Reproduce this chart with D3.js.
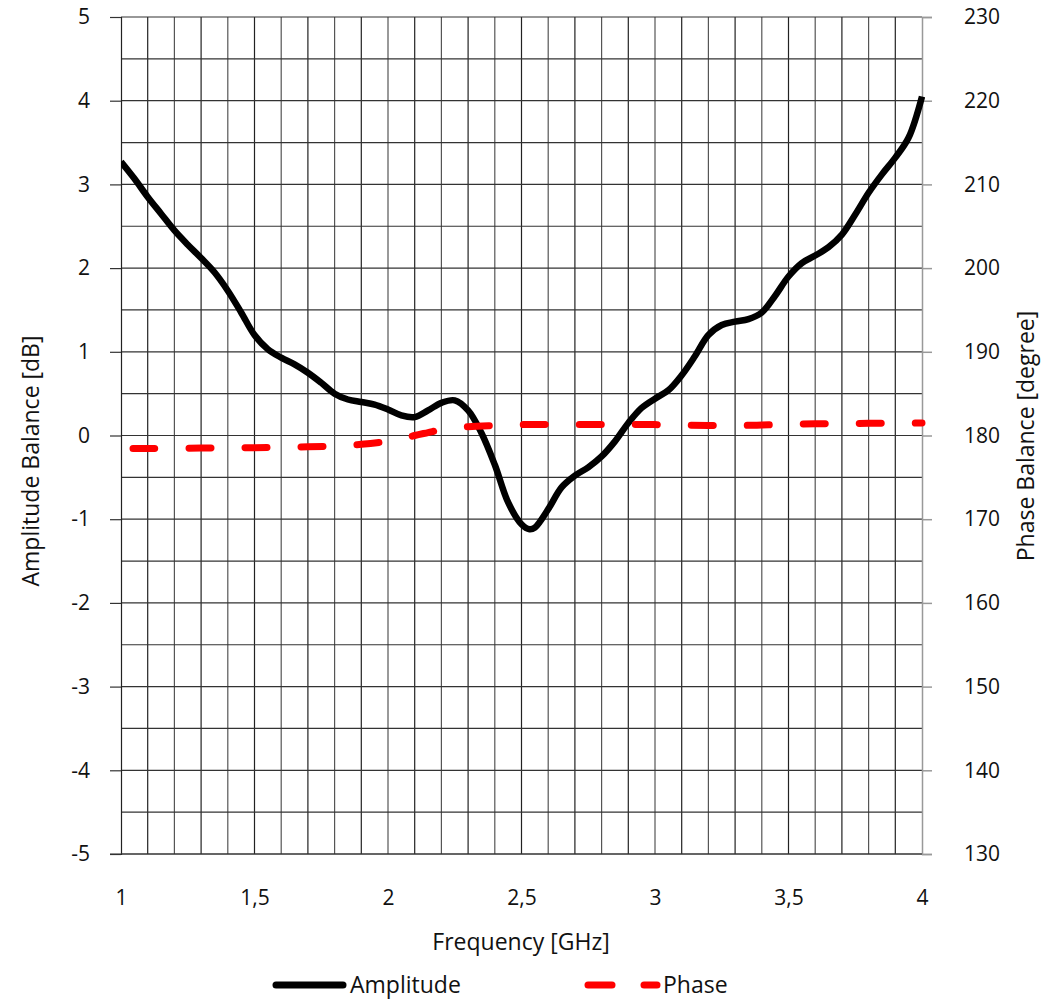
<!DOCTYPE html>
<html><head><meta charset="utf-8">
<script src="https://cdn.jsdelivr.net/npm/d3@7"></script>
<style>body{margin:0;background:#fff}svg{display:block}text{font-family:"Open Sans",sans-serif;fill:#111}</style>
</head><body><svg id="c" width="1058" height="1002"></svg>
<script>
const freq = [1.0,1.05,1.1,1.15,1.2,1.25,1.3,1.35,1.4,1.45,1.5,1.55,1.6,1.65,1.7,1.75,1.8,1.85,1.9,1.95,2.0,2.05,2.1,2.15,2.2,2.25,2.3,2.35,2.4,2.45,2.5,2.53,2.55,2.6,2.65,2.7,2.75,2.8,2.85,2.9,2.95,3.0,3.05,3.1,3.15,3.2,3.25,3.3,3.35,3.4,3.45,3.5,3.55,3.6,3.65,3.7,3.75,3.8,3.85,3.9,3.95,4.0];
const amplitude = [3.27,3.07,2.85,2.65,2.45,2.28,2.12,1.95,1.73,1.47,1.2,1.03,0.93,0.85,0.75,0.63,0.5,0.43,0.4,0.37,0.31,0.24,0.22,0.3,0.39,0.42,0.3,0.03,-0.35,-0.8,-1.06,-1.12,-1.1,-0.88,-0.62,-0.48,-0.38,-0.25,-0.07,0.15,0.33,0.44,0.54,0.72,0.95,1.2,1.32,1.36,1.39,1.47,1.67,1.9,2.06,2.15,2.25,2.4,2.64,2.9,3.12,3.32,3.56,4.05];
const phaseFreq = [1.045,1.1,1.2,1.3,1.4,1.5,1.6,1.7,1.8,1.9,2.0,2.05,2.1,2.15,2.2,2.3,2.4,2.5,2.6,2.7,2.8,2.9,3.0,3.1,3.2,3.3,3.4,3.5,3.6,3.7,3.8,3.9,4.0];
const phase = [178.45,178.45,178.45,178.5,178.5,178.55,178.6,178.65,178.75,178.95,179.3,179.6,180.0,180.35,180.7,181.05,181.2,181.3,181.3,181.3,181.3,181.3,181.3,181.25,181.2,181.2,181.25,181.35,181.4,181.4,181.45,181.45,181.5];
const xTicks = [1,1.5,2,2.5,3,3.5,4];
const xTickLabels = ["1","1,5","2","2,5","3","3,5","4"];
const yLeftTicks = [-5,-4,-3,-2,-1,0,1,2,3,4,5];
const yRightTicks = [130,140,150,160,170,180,190,200,210,220,230];

const svg = d3.select("#c");
const L=121,R=922,T=17,B=854;
const x = d3.scaleLinear().domain([1,4]).range([L,R]);
const y = d3.scaleLinear().domain([-5,5]).range([B,T]);
const y2 = d3.scaleLinear().domain([130,230]).range([B,T]);

// grid
const g = svg.append("g");
g.selectAll(".vg").data(d3.range(1,41).map(i=>1+i*0.1).filter(v=>v<3.999)).join("line")
  .attr("x1",d=>x(d)).attr("x2",d=>x(d)).attr("y1",T).attr("y2",B)
  .attr("stroke",(d,i)=>i%2===0?"#222":"#555").attr("stroke-width",1.2);
g.selectAll(".hg").data(d3.range(0,21).map(i=>-5+i*0.5)).join("line")
  .attr("x1",L).attr("x2",R).attr("y1",d=>y(d)).attr("y2",d=>y(d))
  .attr("stroke","#333").attr("stroke-width",1.2);

// left axis
const ax = d3.axisLeft(y).tickValues(yLeftTicks).tickSize(11).tickPadding(20).tickFormat(d=>d);
const gl = svg.append("g").attr("transform",`translate(${L},0)`).call(ax);
gl.select(".domain").attr("stroke","#222").attr("stroke-width",1.2);
gl.selectAll(".tick line").attr("stroke","#333").attr("stroke-width",1.2);
gl.selectAll(".tick text").style("font-size","21px").attr("fill","#111");

// right axis
const ar = d3.axisRight(y2).tickValues(yRightTicks).tickSize(10).tickPadding(32);
const gr = svg.append("g").attr("transform",`translate(${R},0)`).call(ar);
gr.select(".domain").attr("stroke","#999").attr("stroke-width",1.5);
gr.selectAll(".tick line").attr("stroke","#999").attr("stroke-width",1.5);
gr.selectAll(".tick text").style("font-size","21px").attr("fill","#111");

// bottom axis
const ab = d3.axisBottom(x).tickValues(xTicks).tickSize(0).tickPadding(36).tickFormat((d,i)=>xTickLabels[i]);
const gb = svg.append("g").attr("transform",`translate(0,${B})`).call(ab);
gb.select(".domain").remove();
gb.selectAll(".tick text").style("font-size","21px").attr("fill","#111");
svg.append("line").attr("x1",110).attr("x2",R).attr("y1",B).attr("y2",B).attr("stroke","#333").attr("stroke-width",1.2);

// titles
svg.append("text").attr("x",521).attr("y",950).attr("text-anchor","middle").style("font-size","23px").text("Frequency [GHz]");
svg.append("text").attr("transform","translate(39,461) rotate(-90)").attr("text-anchor","middle").style("font-size","23px").text("Amplitude Balance [dB]");
svg.append("text").attr("transform","translate(1034,436) rotate(-90)").attr("text-anchor","middle").style("font-size","23px").text("Phase Balance [degree]");

// lines
svg.append("clipPath").attr("id","pc").append("rect").attr("x",L).attr("y",T-5).attr("width",R-L+3).attr("height",B-T+10);
const lineA = d3.line().x((d,i)=>x(freq[i])).y(d=>y(d)).curve(d3.curveCatmullRom);
svg.append("path").attr("d",lineA(amplitude)).attr("fill","none").attr("stroke","#000").attr("stroke-width",6.5).attr("stroke-linejoin","round").attr("clip-path","url(#pc)");
const lineP = d3.line().x((d,i)=>x(phaseFreq[i])).y(d=>y2(d)).curve(d3.curveCatmullRom);
svg.append("path").attr("d",lineP(phase)).attr("fill","none").attr("stroke","#ff0000").attr("stroke-width",7).attr("stroke-linecap","round").attr("stroke-dasharray","22,34");

// legend
svg.append("line").attr("x1",276).attr("x2",343).attr("y1",985).attr("y2",985).attr("stroke","#000").attr("stroke-width",7).attr("stroke-linecap","round");
svg.append("text").attr("x",350).attr("y",993).style("font-size","23px").text("Amplitude");
svg.append("line").attr("x1",588).attr("x2",612).attr("y1",985).attr("y2",985).attr("stroke","#ff0000").attr("stroke-width",7).attr("stroke-linecap","round");
svg.append("line").attr("x1",644).attr("x2",657).attr("y1",985).attr("y2",985).attr("stroke","#ff0000").attr("stroke-width",7).attr("stroke-linecap","round");
svg.append("text").attr("x",663).attr("y",993).style("font-size","23px").text("Phase");
</script></body></html>
